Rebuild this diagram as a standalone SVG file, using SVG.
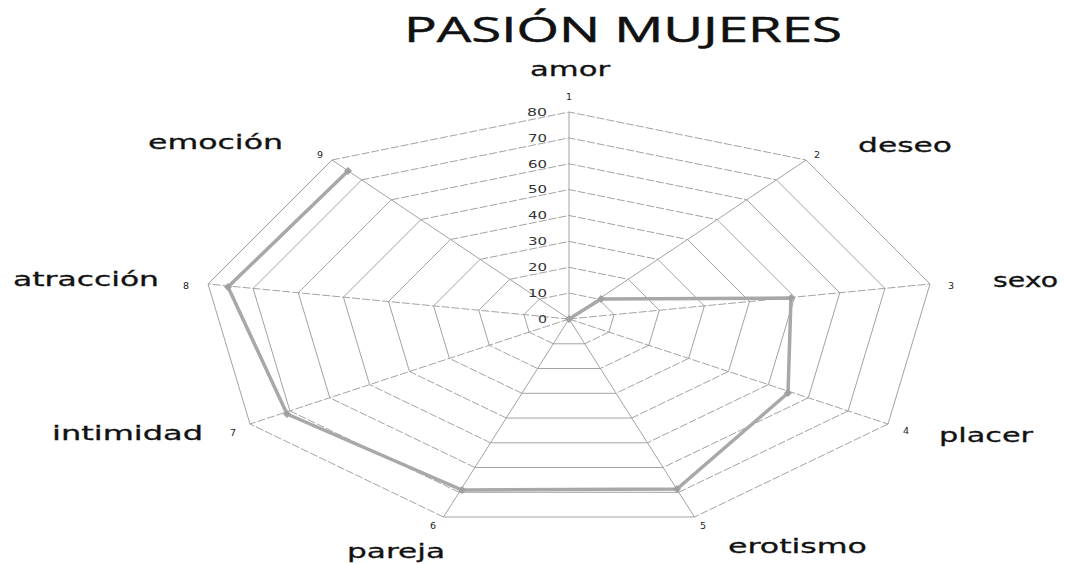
<svg xmlns="http://www.w3.org/2000/svg" width="1065" height="564" viewBox="0 0 1065 564">
<style>
.g{fill:none;stroke:#a3a3a3;stroke-width:1}
.d{fill:none;stroke:#a3a3a3;stroke-width:1;stroke-dasharray:8 2}
.ser{fill:none;stroke:#a8a8a8;stroke-width:3.5;stroke-linejoin:miter}
.mk{fill:#a0a0a0}
.cat{font-family:"DejaVu Sans",Verdana,sans-serif;font-size:20px;fill:#111;stroke:#111;stroke-width:0.3}
.num{font-family:"DejaVu Sans",Verdana,sans-serif;font-size:9.5px;fill:#222;text-anchor:middle}
.val{font-family:"DejaVu Sans",Verdana,sans-serif;font-size:11px;fill:#333}
.title{font-family:"Open Sans","Noto Sans",sans-serif;font-size:34px;fill:#111;stroke:#111;stroke-width:0.5}
</style>
<rect width="1065" height="564" fill="#fff"/>
<text class="title" x="404" y="42" textLength="438" lengthAdjust="spacingAndGlyphs">PASIÓN MUJERES</text>
<g id="grid">
<path class="g" d="M598.6,299.1L614.1,314.6L608.9,332.1M584.7,343.8L553.3,343.8M529.1,332.1L523.9,314.6L539.4,299.1
M628.3,279.3L659.3,310.3L648.8,345.3M600.4,368.5L537.6,368.5M489.3,345.3L478.8,310.3L509.8,279.3
M657.9,259.4L704.4,305.9L688.6,358.4M616.1,393.3L521.9,393.3M449.4,358.4L433.6,305.9L480.1,259.4
M687.5,239.5L749.5,301.5L728.5,371.5M631.8,418L506.3,418M409.5,371.5L388.5,301.5L450.5,239.5
M717.1,219.6L794.6,297.1L768.4,384.6M647.4,442.8L490.6,442.8M369.6,384.6L343.4,297.1L420.9,219.6
M746.8,199.8L839.8,292.8L808.3,397.8M663.1,467.5L474.9,467.5M329.8,397.8L298.3,292.8L391.3,199.8
M776.4,179.9L884.9,288.4L848.1,410.9M678.8,492.3L459.2,492.3M289.9,410.9L253.1,288.4L361.6,179.9
M806,160L930,284L888,424M694.5,517L443.5,517M250,424L208,284L332,160"/>
<path class="d" d="M539.4,299.1L569,293.1L598.6,299.1M608.9,332.1L584.7,343.8M553.3,343.8L529.1,332.1
M509.8,279.3L569,267.3L628.3,279.3M648.8,345.3L600.4,368.5M537.6,368.5L489.3,345.3
M480.1,259.4L569,241.4L657.9,259.4M688.6,358.4L616.1,393.3M521.9,393.3L449.4,358.4
M450.5,239.5L569,215.5L687.5,239.5M728.5,371.5L631.8,418M506.3,418L409.5,371.5
M420.9,219.6L569,189.6L717.1,219.6M768.4,384.6L647.4,442.8M490.6,442.8L369.6,384.6
M391.3,199.8L569,163.8L746.8,199.8M808.3,397.8L663.1,467.5M474.9,467.5L329.8,397.8
M361.6,179.9L569,137.9L776.4,179.9M848.1,410.9L678.8,492.3M459.2,492.3L289.9,410.9
M332,160L569,112L806,160M888,424L694.5,517M443.5,517L250,424"/>
</g>
<g id="axes">
<path class="g" d="M569,319L569,112M569,319L806,160M569,319L332,160M569,319L694.5,517M569,319L443.5,517"/>
<path class="d" d="M569,319L930,284M569,319L208,284M569,319L888,424M569,319L250,424"/>
</g>
<g id="value-labels" class="val">
<text x="538" y="323" textLength="9" lengthAdjust="spacingAndGlyphs">0</text>
<text x="528" y="297" textLength="19" lengthAdjust="spacingAndGlyphs">10</text>
<text x="528" y="271" textLength="19" lengthAdjust="spacingAndGlyphs">20</text>
<text x="528" y="245" textLength="19" lengthAdjust="spacingAndGlyphs">30</text>
<text x="528" y="219" textLength="19" lengthAdjust="spacingAndGlyphs">40</text>
<text x="528" y="193" textLength="19" lengthAdjust="spacingAndGlyphs">50</text>
<text x="528" y="168" textLength="19" lengthAdjust="spacingAndGlyphs">60</text>
<text x="528" y="142" textLength="19" lengthAdjust="spacingAndGlyphs">70</text>
<text x="527" y="116" textLength="20" lengthAdjust="spacingAndGlyphs">80</text>
</g>
<g id="series">
<polyline class="ser" points="569,319 601,299 791,298 788,393 677,489 462,490 287,414 228,287 348,171"/>
<g class="mk">
<path d="M569,315L573,319L569,323L565,319Z"/>
<path d="M601,295L605,299L601,303L597,299Z"/>
<path d="M791,294L795,298L791,302L787,298Z"/>
<path d="M788,389L792,393L788,397L784,393Z"/>
<path d="M677,485L681,489L677,493L673,489Z"/>
<path d="M462,486L466,490L462,494L458,490Z"/>
<path d="M287,410L291,414L287,418L283,414Z"/>
<path d="M228,283L232,287L228,291L224,287Z"/>
<path d="M348,167L352,171L348,175L344,171Z"/>
</g>
</g>
<g id="axis-numbers" class="num">
<text x="569" y="100">1</text>
<text x="817" y="158">2</text>
<text x="951" y="289">3</text>
<text x="906" y="434">4</text>
<text x="703" y="529">5</text>
<text x="433" y="529">6</text>
<text x="233" y="436">7</text>
<text x="186" y="289">8</text>
<text x="320" y="158">9</text>
</g>
<g id="category-labels" class="cat">
<text id="amor" x="530" y="76" textLength="80" lengthAdjust="spacingAndGlyphs">amor</text>
<text id="deseo" x="858" y="152" textLength="94" lengthAdjust="spacingAndGlyphs">deseo</text>
<text id="sexo" x="993" y="287" textLength="65" lengthAdjust="spacingAndGlyphs">sexo</text>
<text id="placer" x="939" y="442" textLength="94" lengthAdjust="spacingAndGlyphs">placer</text>
<text id="erotismo" x="728" y="553" textLength="139" lengthAdjust="spacingAndGlyphs">erotismo</text>
<text id="pareja" x="347" y="558" textLength="98" lengthAdjust="spacingAndGlyphs">pareja</text>
<text id="intimidad" x="52" y="440" textLength="151" lengthAdjust="spacingAndGlyphs">intimidad</text>
<text id="atraccion" x="13" y="286" textLength="146" lengthAdjust="spacingAndGlyphs">atracción</text>
<text id="emocion" x="148" y="149" textLength="135" lengthAdjust="spacingAndGlyphs">emoción</text>
</g>
</svg>
